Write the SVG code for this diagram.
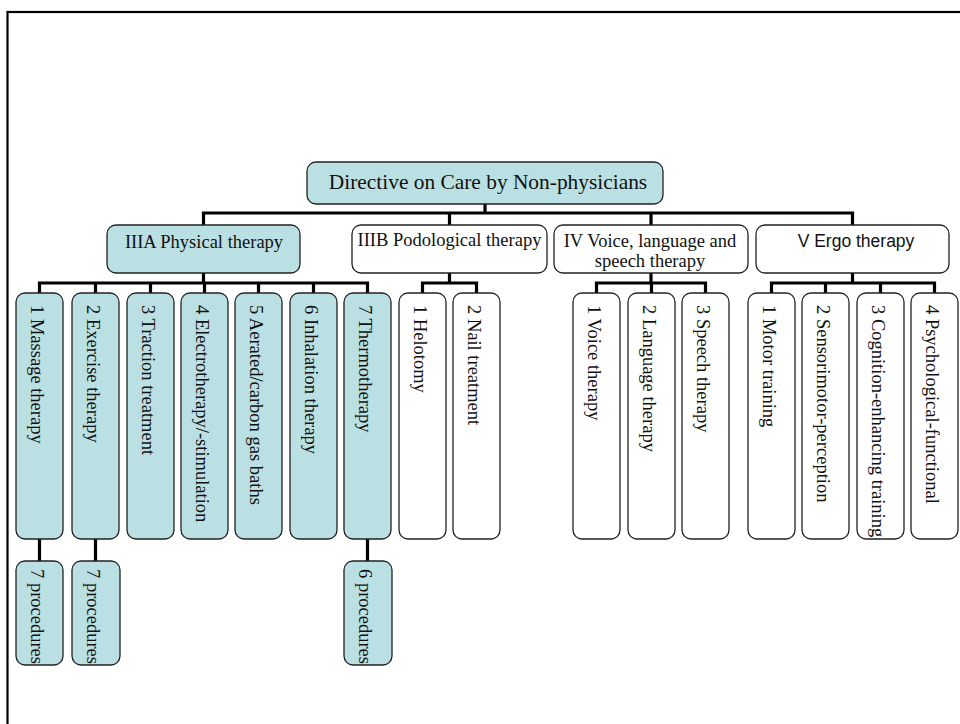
<svg xmlns="http://www.w3.org/2000/svg" width="960" height="724" viewBox="0 0 960 724">
<style>
.frame{fill:none;stroke:#000;stroke-width:2.2}
.b{fill:#bbe0e3;stroke:#222;stroke-width:1.3}
.w{fill:#fff;stroke:#222;stroke-width:1.3}
.c{fill:none;stroke:#000;stroke-width:3.2;stroke-linejoin:miter}
text{font-family:"Liberation Serif","Times New Roman",serif;fill:#111}
.t1{font-size:21.4px}
.t2{font-size:18.5px}
.ts{font-family:"Liberation Sans",Arial,sans-serif;font-size:17.5px}
.tv{font-size:18.5px}
</style>
<rect width="960" height="724" fill="#fff"/>
<rect class="frame" x="7.5" y="12" width="970" height="730"/>
<g id="connectors">
<path class="c" d="M485 204V213M203.5 225V213H852.5V225M449.5 213V225M651 213V225"/>
<path class="c" d="M203.5 273V283M39.5 293V283H367.5V293M95.5 283V293M150.5 283V293M204.5 283V293M258.5 283V293M313.5 283V293"/>
<path class="c" d="M449.5 273V283M422.5 293V283H476.5V293"/>
<path class="c" d="M651 273V283M596.5 293V283H705.5V293M651.5 283V293"/>
<path class="c" d="M852.5 273V283M771.5 293V283H934.5V293M825.5 283V293M880.5 283V293"/>
<path class="c" d="M39.5 539V561M95.5 539V561M367.5 539V561"/>
</g>
<g id="root"><rect class="b" x="307" y="162" width="356" height="42" rx="9"/><text class="t1" x="488" y="189" text-anchor="middle">Directive on Care by Non-physicians</text></g>
<g id="IIIA"><rect class="b" x="107" y="225" width="193" height="48" rx="9"/><text class="t2" x="204" y="248" text-anchor="middle">IIIA Physical therapy</text></g>
<g id="IIIB"><rect class="w" x="352" y="225" width="195" height="48" rx="9"/><text class="t2" x="449.5" y="246" text-anchor="middle">IIIB Podological therapy</text></g>
<g id="IV"><rect class="w" x="554" y="225" width="194" height="48" rx="9"/><text class="t2" x="650" y="247" text-anchor="middle">IV Voice, language and</text><text class="t2" x="650" y="267" text-anchor="middle">speech therapy</text></g>
<g id="V"><rect class="w" x="756" y="225" width="193" height="48" rx="9"/><text class="ts" x="856" y="247" text-anchor="middle">V Ergo therapy</text></g>

<g id="a1"><rect class="b" x="16" y="293" width="47" height="246" rx="9"/><text class="tv" transform="translate(39.5,305) rotate(90)" dy="0.48em">1 Massage therapy</text></g>
<g id="a2"><rect class="b" x="72" y="293" width="47" height="246" rx="9"/><text class="tv" transform="translate(95.5,305) rotate(90)" dy="0.48em">2 Exercise therapy</text></g>
<g id="a3"><rect class="b" x="127" y="293" width="47" height="246" rx="9"/><text class="tv" transform="translate(150.5,305) rotate(90)" dy="0.48em">3 Traction treatment</text></g>
<g id="a4"><rect class="b" x="181" y="293" width="47" height="246" rx="9"/><text class="tv" transform="translate(204.5,305) rotate(90)" dy="0.48em">4 Electrotherapy/-stimulation</text></g>
<g id="a5"><rect class="b" x="235" y="293" width="47" height="246" rx="9"/><text class="tv" transform="translate(258.5,305) rotate(90)" dy="0.48em">5 Aerated/carbon gas baths</text></g>
<g id="a6"><rect class="b" x="290" y="293" width="47" height="246" rx="9"/><text class="tv" transform="translate(313.5,305) rotate(90)" dy="0.48em">6 Inhalation therapy</text></g>
<g id="a7"><rect class="b" x="344" y="293" width="47" height="246" rx="9"/><text class="tv" transform="translate(367.5,305) rotate(90)" dy="0.48em">7 Thermotherapy</text></g>

<g id="b1"><rect class="w" x="399" y="293" width="47" height="246" rx="9"/><text class="tv" transform="translate(422.5,305) rotate(90)" dy="0.48em">1 Helotomy</text></g>
<g id="b2"><rect class="w" x="453" y="293" width="47" height="246" rx="9"/><text class="tv" transform="translate(476.5,305) rotate(90)" dy="0.48em">2 Nail  treatment</text></g>

<g id="c1"><rect class="w" x="573" y="293" width="47" height="246" rx="9"/><text class="tv" transform="translate(596.5,305) rotate(90)" dy="0.48em">1 Voice therapy</text></g>
<g id="c2"><rect class="w" x="628" y="293" width="47" height="246" rx="9"/><text class="tv" transform="translate(651.5,305) rotate(90)" dy="0.48em">2 Language therapy</text></g>
<g id="c3"><rect class="w" x="682" y="293" width="47" height="246" rx="9"/><text class="tv" transform="translate(705.5,305) rotate(90)" dy="0.48em">3 Speech therapy</text></g>

<g id="d1"><rect class="w" x="748" y="293" width="47" height="246" rx="9"/><text class="tv" transform="translate(771.5,305) rotate(90)" dy="0.48em">1 Motor training</text></g>
<g id="d2"><rect class="w" x="802" y="293" width="47" height="246" rx="9"/><text class="tv" transform="translate(825.5,305) rotate(90)" dy="0.48em">2 Sensorimotor-perception</text></g>
<g id="d3"><rect class="w" x="857" y="293" width="47" height="246" rx="9"/><text class="tv" transform="translate(880.5,305) rotate(90)" dy="0.48em">3 Cognition-enhancing training</text></g>
<g id="d4"><rect class="w" x="911" y="293" width="47" height="246" rx="9"/><text class="tv" transform="translate(934.5,305) rotate(90)" dy="0.48em">4 Psychological-functional</text></g>

<g id="p1"><rect class="b" x="16" y="561" width="47" height="104" rx="9"/><text class="tv" transform="translate(39.5,569) rotate(90)" dy="0.48em">7 procedures</text></g>
<g id="p2"><rect class="b" x="72" y="561" width="48" height="104" rx="9"/><text class="tv" transform="translate(96,569) rotate(90)" dy="0.48em">7 procedures</text></g>
<g id="p3"><rect class="b" x="344" y="561" width="48" height="104" rx="9"/><text class="tv" transform="translate(368,569) rotate(90)" dy="0.48em">6 procedures</text></g>
</svg>
